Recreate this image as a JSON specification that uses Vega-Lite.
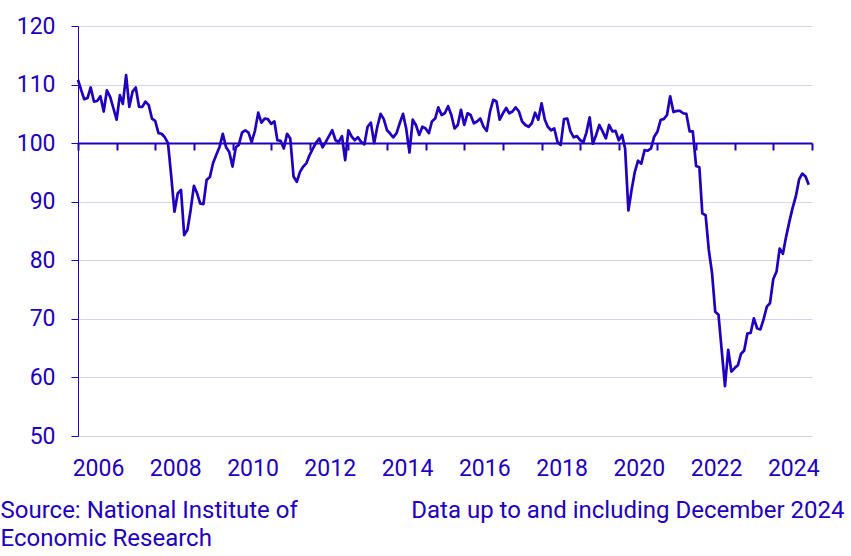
{
  "$schema": "https://vega.github.io/schema/vega-lite/v6.json",
  "width": 734,
  "height": 410,
  "autosize": {"type": "none"},
  "padding": {"left": 78, "top": 26, "right": 39, "bottom": 120},
  "background": "white",
  "config": {"font": "Roboto", "view": {"stroke": null}},
  "data": {"values": [
    {"date":"2006-01-01","value":110.8},{"date":"2006-02-01","value":109.0},{"date":"2006-03-01","value":107.5},{"date":"2006-04-01","value":107.7},{"date":"2006-05-01","value":109.5},{"date":"2006-06-01","value":107.1},{"date":"2006-07-01","value":107.2},{"date":"2006-08-01","value":108.0},{"date":"2006-09-01","value":105.4},{"date":"2006-10-01","value":109.0},{"date":"2006-11-01","value":107.9},{"date":"2006-12-01","value":106.0},
    {"date":"2007-01-01","value":104.0},{"date":"2007-02-01","value":108.2},{"date":"2007-03-01","value":106.7},{"date":"2007-04-01","value":111.6},{"date":"2007-05-01","value":106.2},{"date":"2007-06-01","value":108.8},{"date":"2007-07-01","value":109.5},{"date":"2007-08-01","value":106.2},{"date":"2007-09-01","value":106.2},{"date":"2007-10-01","value":107.1},{"date":"2007-11-01","value":106.5},{"date":"2007-12-01","value":104.2},
    {"date":"2008-01-01","value":103.8},{"date":"2008-02-01","value":101.7},{"date":"2008-03-01","value":101.6},{"date":"2008-04-01","value":101.0},{"date":"2008-05-01","value":100.0},{"date":"2008-06-01","value":94.3},{"date":"2008-07-01","value":88.3},{"date":"2008-08-01","value":91.4},{"date":"2008-09-01","value":92.0},{"date":"2008-10-01","value":84.3},{"date":"2008-11-01","value":85.2},{"date":"2008-12-01","value":88.6},
    {"date":"2009-01-01","value":92.7},{"date":"2009-02-01","value":91.4},{"date":"2009-03-01","value":89.7},{"date":"2009-04-01","value":89.6},{"date":"2009-05-01","value":93.7},{"date":"2009-06-01","value":94.2},{"date":"2009-07-01","value":96.6},{"date":"2009-08-01","value":98.0},{"date":"2009-09-01","value":99.4},{"date":"2009-10-01","value":101.6},{"date":"2009-11-01","value":99.3},{"date":"2009-12-01","value":98.5},
    {"date":"2010-01-01","value":96.0},{"date":"2010-02-01","value":99.3},{"date":"2010-03-01","value":99.7},{"date":"2010-04-01","value":101.8},{"date":"2010-05-01","value":102.2},{"date":"2010-06-01","value":101.8},{"date":"2010-07-01","value":100.2},{"date":"2010-08-01","value":102.1},{"date":"2010-09-01","value":105.2},{"date":"2010-10-01","value":103.5},{"date":"2010-11-01","value":104.2},{"date":"2010-12-01","value":104.1},
    {"date":"2011-01-01","value":103.3},{"date":"2011-02-01","value":103.7},{"date":"2011-03-01","value":100.5},{"date":"2011-04-01","value":100.4},{"date":"2011-05-01","value":99.1},{"date":"2011-06-01","value":101.6},{"date":"2011-07-01","value":100.8},{"date":"2011-08-01","value":94.3},{"date":"2011-09-01","value":93.4},{"date":"2011-10-01","value":95.1},{"date":"2011-11-01","value":96.0},{"date":"2011-12-01","value":96.6},
    {"date":"2012-01-01","value":98.0},{"date":"2012-02-01","value":99.1},{"date":"2012-03-01","value":100.1},{"date":"2012-04-01","value":100.8},{"date":"2012-05-01","value":99.3},{"date":"2012-06-01","value":100.2},{"date":"2012-07-01","value":101.2},{"date":"2012-08-01","value":102.2},{"date":"2012-09-01","value":100.5},{"date":"2012-10-01","value":100.2},{"date":"2012-11-01","value":101.2},{"date":"2012-12-01","value":97.1},
    {"date":"2013-01-01","value":102.2},{"date":"2013-02-01","value":101.1},{"date":"2013-03-01","value":100.5},{"date":"2013-04-01","value":101.0},{"date":"2013-05-01","value":100.2},{"date":"2013-06-01","value":99.8},{"date":"2013-07-01","value":102.8},{"date":"2013-08-01","value":103.5},{"date":"2013-09-01","value":100.0},{"date":"2013-10-01","value":102.8},{"date":"2013-11-01","value":105.0},{"date":"2013-12-01","value":104.1},
    {"date":"2014-01-01","value":102.2},{"date":"2014-02-01","value":101.6},{"date":"2014-03-01","value":101.0},{"date":"2014-04-01","value":101.7},{"date":"2014-05-01","value":103.4},{"date":"2014-06-01","value":105.0},{"date":"2014-07-01","value":102.5},{"date":"2014-08-01","value":98.4},{"date":"2014-09-01","value":104.0},{"date":"2014-10-01","value":103.1},{"date":"2014-11-01","value":101.4},{"date":"2014-12-01","value":102.8},
    {"date":"2015-01-01","value":102.5},{"date":"2015-02-01","value":101.7},{"date":"2015-03-01","value":103.7},{"date":"2015-04-01","value":104.2},{"date":"2015-05-01","value":106.1},{"date":"2015-06-01","value":104.8},{"date":"2015-07-01","value":105.1},{"date":"2015-08-01","value":106.3},{"date":"2015-09-01","value":104.8},{"date":"2015-10-01","value":102.5},{"date":"2015-11-01","value":103.1},{"date":"2015-12-01","value":105.7},
    {"date":"2016-01-01","value":103.1},{"date":"2016-02-01","value":105.1},{"date":"2016-03-01","value":104.8},{"date":"2016-04-01","value":103.4},{"date":"2016-05-01","value":103.7},{"date":"2016-06-01","value":104.2},{"date":"2016-07-01","value":102.8},{"date":"2016-08-01","value":102.1},{"date":"2016-09-01","value":105.4},{"date":"2016-10-01","value":107.4},{"date":"2016-11-01","value":107.1},{"date":"2016-12-01","value":104.0},
    {"date":"2017-01-01","value":105.1},{"date":"2017-02-01","value":106.0},{"date":"2017-03-01","value":105.1},{"date":"2017-04-01","value":105.4},{"date":"2017-05-01","value":106.1},{"date":"2017-06-01","value":105.4},{"date":"2017-07-01","value":103.7},{"date":"2017-08-01","value":103.1},{"date":"2017-09-01","value":102.8},{"date":"2017-10-01","value":103.4},{"date":"2017-11-01","value":105.2},{"date":"2017-12-01","value":104.0},
    {"date":"2018-01-01","value":106.8},{"date":"2018-02-01","value":104.0},{"date":"2018-03-01","value":102.8},{"date":"2018-04-01","value":102.2},{"date":"2018-05-01","value":102.5},{"date":"2018-06-01","value":100.2},{"date":"2018-07-01","value":99.7},{"date":"2018-08-01","value":104.1},{"date":"2018-09-01","value":104.2},{"date":"2018-10-01","value":102.0},{"date":"2018-11-01","value":101.0},{"date":"2018-12-01","value":101.2},
    {"date":"2019-01-01","value":100.5},{"date":"2019-02-01","value":100.2},{"date":"2019-03-01","value":101.8},{"date":"2019-04-01","value":104.4},{"date":"2019-05-01","value":99.9},{"date":"2019-06-01","value":101.4},{"date":"2019-07-01","value":103.1},{"date":"2019-08-01","value":102.0},{"date":"2019-09-01","value":100.8},{"date":"2019-10-01","value":103.1},{"date":"2019-11-01","value":102.0},{"date":"2019-12-01","value":102.1},
    {"date":"2020-01-01","value":100.5},{"date":"2020-02-01","value":101.4},{"date":"2020-03-01","value":99.1},{"date":"2020-04-01","value":88.5},{"date":"2020-05-01","value":92.0},{"date":"2020-06-01","value":95.1},{"date":"2020-07-01","value":97.0},{"date":"2020-08-01","value":96.5},{"date":"2020-09-01","value":98.8},{"date":"2020-10-01","value":98.7},{"date":"2020-11-01","value":99.1},{"date":"2020-12-01","value":101.1},
    {"date":"2021-01-01","value":102.0},{"date":"2021-02-01","value":104.0},{"date":"2021-03-01","value":104.1},{"date":"2021-04-01","value":104.8},{"date":"2021-05-01","value":108.0},{"date":"2021-06-01","value":105.3},{"date":"2021-07-01","value":105.5},{"date":"2021-08-01","value":105.5},{"date":"2021-09-01","value":105.1},{"date":"2021-10-01","value":105.0},{"date":"2021-11-01","value":102.0},{"date":"2021-12-01","value":102.0},
    {"date":"2022-01-01","value":96.1},{"date":"2022-02-01","value":95.9},{"date":"2022-03-01","value":88.0},{"date":"2022-04-01","value":87.7},{"date":"2022-05-01","value":81.8},{"date":"2022-06-01","value":77.8},{"date":"2022-07-01","value":71.2},{"date":"2022-08-01","value":70.7},{"date":"2022-09-01","value":64.5},{"date":"2022-10-01","value":58.5},{"date":"2022-11-01","value":64.7},{"date":"2022-12-01","value":61.0},
    {"date":"2023-01-01","value":61.6},{"date":"2023-02-01","value":62.1},{"date":"2023-03-01","value":64.0},{"date":"2023-04-01","value":64.6},{"date":"2023-05-01","value":67.5},{"date":"2023-06-01","value":67.6},{"date":"2023-07-01","value":70.1},{"date":"2023-08-01","value":68.4},{"date":"2023-09-01","value":68.2},{"date":"2023-10-01","value":69.9},{"date":"2023-11-01","value":72.1},{"date":"2023-12-01","value":72.7},
    {"date":"2024-01-01","value":76.8},{"date":"2024-02-01","value":78.1},{"date":"2024-03-01","value":82.0},{"date":"2024-04-01","value":81.1},{"date":"2024-05-01","value":84.0},{"date":"2024-06-01","value":86.6},{"date":"2024-07-01","value":88.9},{"date":"2024-08-01","value":90.9},{"date":"2024-09-01","value":93.8},{"date":"2024-10-01","value":94.8},{"date":"2024-11-01","value":94.3},{"date":"2024-12-01","value":92.9}
  ]},
  "mark": {"type": "line", "color": "#1E00BE", "strokeWidth": 2.7, "strokeJoin": "round"},
  "encoding": {
    "x": {
      "field": "date",
      "type": "temporal",
      "scale": {"type": "utc", "domain": [{"year": 2006, "month": 1, "date": 1, "utc": true}, {"year": 2025, "month": 1, "date": 1, "utc": true}]},
      "axis": {
        "values": [
          {"year": 2006, "month": 1, "date": 1, "utc": true}, {"year": 2007, "month": 1, "date": 1, "utc": true}, {"year": 2008, "month": 1, "date": 1, "utc": true}, {"year": 2009, "month": 1, "date": 1, "utc": true},
          {"year": 2010, "month": 1, "date": 1, "utc": true}, {"year": 2011, "month": 1, "date": 1, "utc": true}, {"year": 2012, "month": 1, "date": 1, "utc": true}, {"year": 2013, "month": 1, "date": 1, "utc": true},
          {"year": 2014, "month": 1, "date": 1, "utc": true}, {"year": 2015, "month": 1, "date": 1, "utc": true}, {"year": 2016, "month": 1, "date": 1, "utc": true}, {"year": 2017, "month": 1, "date": 1, "utc": true},
          {"year": 2018, "month": 1, "date": 1, "utc": true}, {"year": 2019, "month": 1, "date": 1, "utc": true}, {"year": 2020, "month": 1, "date": 1, "utc": true}, {"year": 2021, "month": 1, "date": 1, "utc": true},
          {"year": 2022, "month": 1, "date": 1, "utc": true}, {"year": 2023, "month": 1, "date": 1, "utc": true}, {"year": 2024, "month": 1, "date": 1, "utc": true}, {"year": 2025, "month": 1, "date": 1, "utc": true}
        ],
        "orient": "bottom",
        "offset": -293,
        "grid": false,
        "domainColor": "#1E00BE",
        "domainWidth": 2,
        "tickColor": "#1E00BE",
        "tickWidth": 2,
        "tickSize": 7,
        "labelExpr": "utcyear(datum.value) % 2 == 0 ? '' + utcyear(datum.value) : ''",
        "labelOffset": 20,
        "labelPadding": 325,
        "labelBaseline": "alphabetic",
        "labelFont": "Roboto",
        "labelFontSize": 23,
        "labelColor": "#1E00BE",
        "labelFlush": false,
        "labelOverlap": false,
        "labelBound": false,
        "title": "Data up to and including December 2024",
        "titleX": 766,
        "titleY": 374,
        "titleAlign": "right",
        "titleAnchor": "end",
        "titleBaseline": "alphabetic",
        "titleFont": "Roboto",
        "titleFontSize": 24,
        "titleFontWeight": "normal",
        "titleColor": "#1E00BE"
      }
    },
    "y": {
      "field": "value",
      "type": "quantitative",
      "scale": {"domain": [50, 120], "nice": false, "zero": false},
      "axis": {
        "values": [50, 60, 70, 80, 90, 100, 110, 120],
        "domainColor": "#1E00BE",
        "domainWidth": 1,
        "tickColor": "#1E00BE",
        "tickWidth": 1,
        "tickSize": 7,
        "grid": true,
        "gridColor": "#D2D2F2",
        "gridWidth": 1.2,
        "labelFont": "Roboto",
        "labelFontSize": 23,
        "labelColor": "#1E00BE",
        "labelPadding": 16,
        "labelBaseline": "middle",
        "labelFlush": false,
        "labelOverlap": false,
        "title": ["Source: National Institute of", "Economic Research"],
        "titleAngle": 0,
        "titleX": -78,
        "titleY": 491,
        "titleAlign": "left",
        "titleAnchor": "start",
        "titleBaseline": "alphabetic",
        "titleLineHeight": 28,
        "titleFont": "Roboto",
        "titleFontSize": 24,
        "titleFontWeight": "normal",
        "titleColor": "#1E00BE"
      }
    }
  }
}
